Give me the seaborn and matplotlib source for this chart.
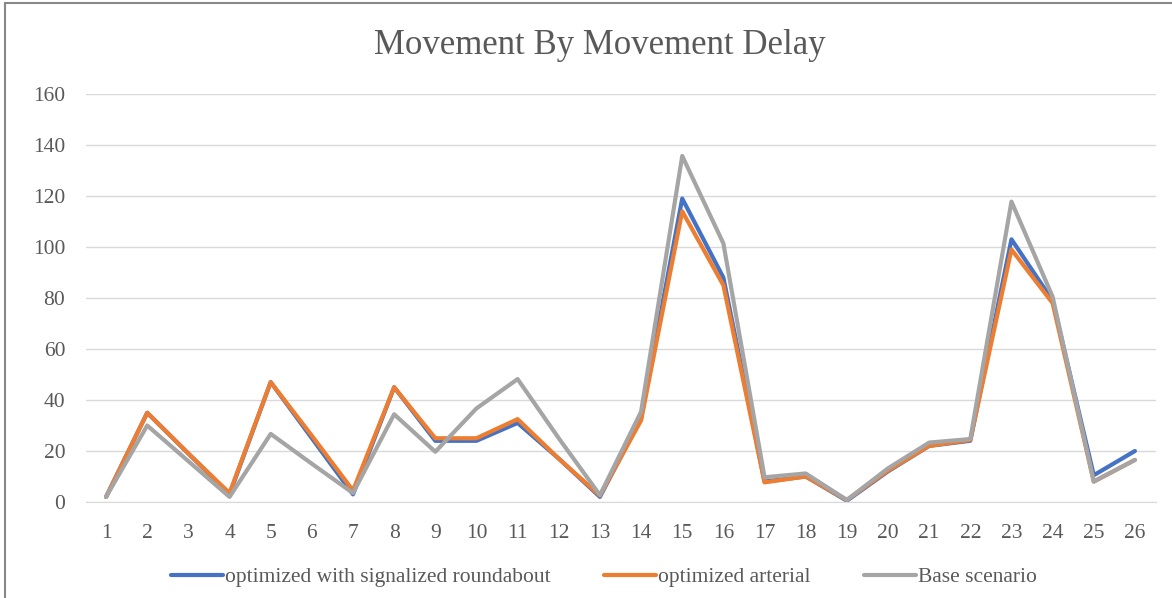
import pandas as pd
import matplotlib.pyplot as plt
import seaborn as sns
from matplotlib.patches import Rectangle

movements = list(range(1, 27))
roundabout = [2, 35, 19, 3, 47, 25, 3, 45, 24, 24, 31, 17, 2, 33, 119, 88,
              8, 10, 0.5, 12, 22, 24, 103, 79, 10.5, 20]
arterial = [2, 35, 19, 3.5, 47, 26, 4.5, 45, 25, 25, 32.5, 17, 2.5, 32, 114, 85,
            7.7, 10, 0.8, 12.3, 22, 24.3, 99, 78, 8, 16.5]
base = [2, 30, 16, 2, 26.7, 15, 3.5, 34.4, 19.7, 36.7, 48.2, 25, 2.7, 35.4, 135.7, 101.4,
        9.7, 11.2, 0.8, 13.2, 23.3, 24.7, 117.8, 80.5, 8, 16.5]

names = ['optimized with signalized roundabout', 'optimized arterial', 'Base scenario']
colors = ['#4472C4', '#ED7D31', '#A5A5A5']

df = pd.DataFrame({'Movement': movements * 3,
                   'Delay': roundabout + arterial + base,
                   'Scenario': [names[0]] * 26 + [names[1]] * 26 + [names[2]] * 26})

sns.set_style('white')
plt.rcParams['font.family'] = ['Liberation Serif', 'DejaVu Serif']

fig = plt.figure(figsize=(11.72, 5.98), dpi=100)
ax = fig.add_axes([85.5 / 1172, 1 - 502 / 598, (1155.5 - 85.5) / 1172, 408 / 598])

sns.lineplot(ax=ax, data=df, x='Movement', y='Delay', hue='Scenario',
             palette=colors, linewidth=3, legend=False)

ax.set_xlim(0.5, 26.5)
ax.set_ylim(0, 160)
ax.set_xticks(movements)
ax.set_yticks(range(0, 161, 20))
ax.yaxis.grid(True, color='#D9D9D9', linewidth=1)
ax.set_axisbelow(True)
for s in ['top', 'right', 'left']:
    ax.spines[s].set_visible(False)
ax.spines['bottom'].set_color('#D9D9D9')
ax.tick_params(axis='both', length=0, labelsize=15.5, labelcolor='#595959')
ax.tick_params(axis='x', pad=16)
ax.tick_params(axis='y', pad=14.5)
ax.set_xlabel('')
ax.set_ylabel('')

fig.text(600 / 1172, 1 - 46 / 598, 'Movement By Movement Delay', ha='center', va='center',
         fontsize=25, color='#595959')

handles = [plt.Line2D([], [], color=c, linewidth=3) for c in colors]
fig.legend(handles, names, loc='center', bbox_to_anchor=(604 / 1172, 1 - 577 / 598), ncol=3,
           frameon=False, fontsize=15.5, handlelength=2.4, handletextpad=0.1,
           columnspacing=2.5, labelcolor='#595959')

fig.patches.append(Rectangle((5 / 1172, -0.05), 1.1, 1.05 - 2.5 / 598, transform=fig.transFigure,
                             fill=False, edgecolor='#888888', linewidth=1.5))

fig.savefig('out.png', dpi=100)
